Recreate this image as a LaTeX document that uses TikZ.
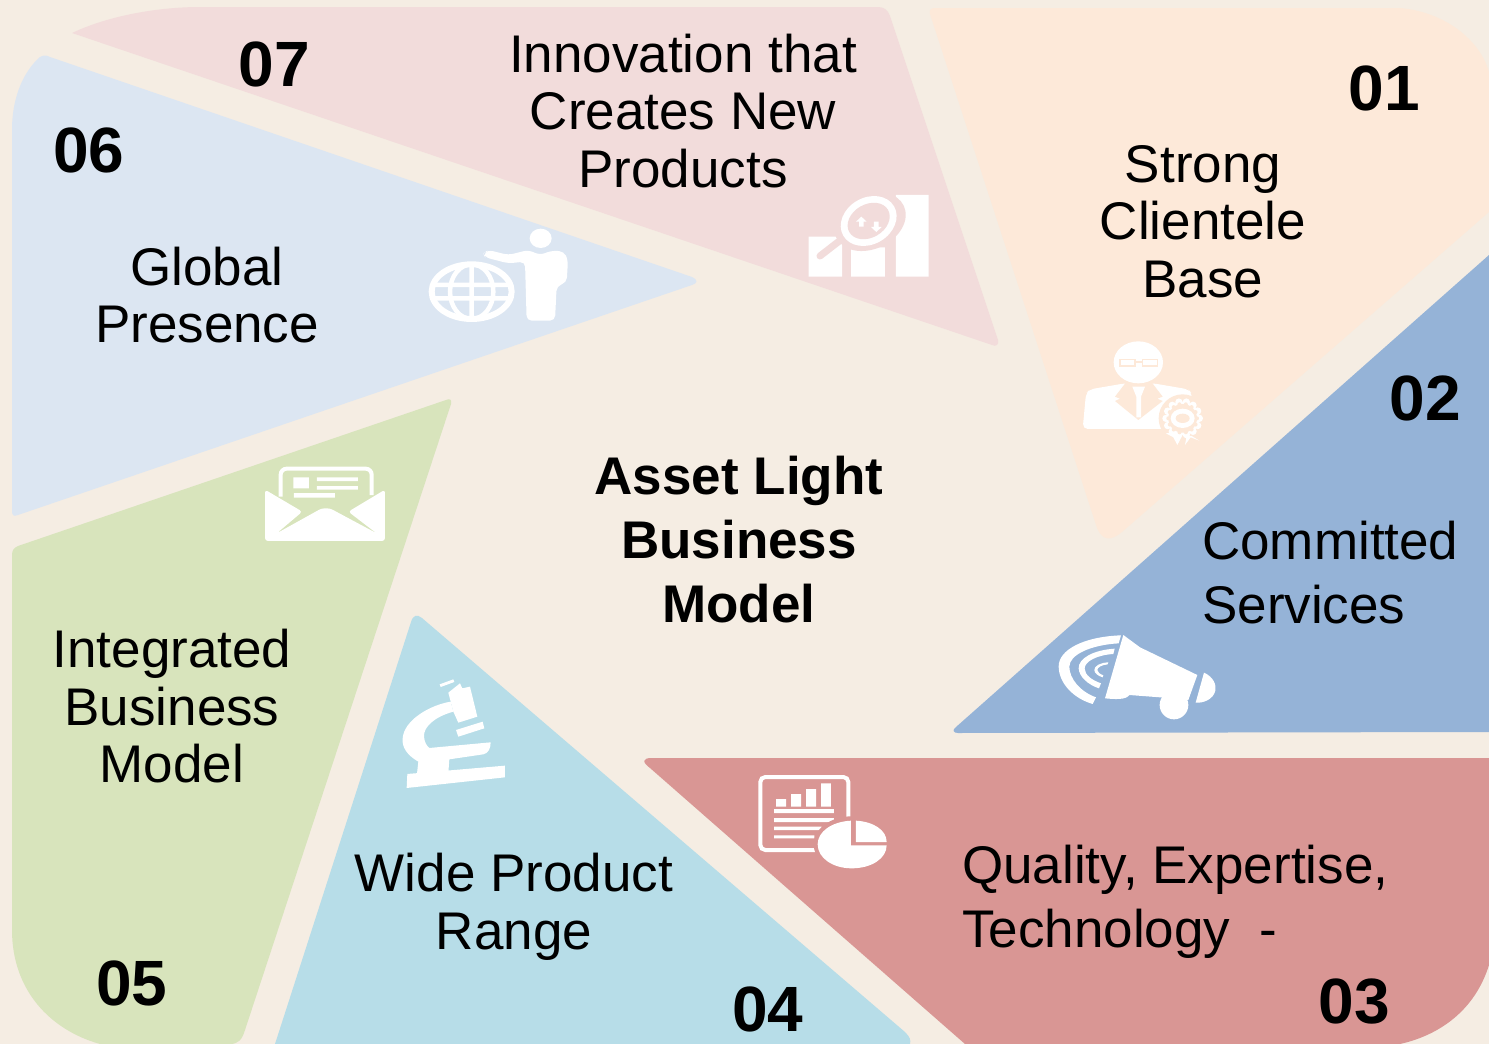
\documentclass[tikz,border=0pt]{standalone}
\usepackage{fontspec}
\usetikzlibrary{calc}
\setmainfont{Liberation Sans}
\definecolor{bgc}{HTML}{F5EDE3}
\definecolor{cA}{HTML}{FDE9D9}
\definecolor{cB}{HTML}{95B3D7}
\definecolor{cC}{HTML}{D99694}
\definecolor{cD}{HTML}{B7DDE8}
\definecolor{cE}{HTML}{D8E4BC}
\definecolor{cF}{HTML}{DCE6F2}
\definecolor{cG}{HTML}{F2DCDB}
\tikzset{
  lab/.style={inner sep=0pt,align=center,font=\fontsize{53}{57.5}\selectfont,text=black},
  labl/.style={inner sep=0pt,align=left,font=\fontsize{53}{64}\selectfont,text=black},
  num/.style={inner sep=0pt,font=\fontsize{64}{70}\selectfont\bfseries,text=black},
  ctr/.style={inner sep=0pt,align=center,font=\fontsize{53}{64}\selectfont\bfseries,text=black},
  icon/.style={x=0.3333pt,y=-0.3333pt}
}
\begin{document}
\begin{tikzpicture}[x=1pt,y=-1pt]
\useasboundingbox (0,0) rectangle (1489,1044);
\fill[bgc] (0,0) rectangle (1489,1044);
% blades
\fill[cG,line join=round] (72,33) .. controls (110,15) and (160,7) .. (200,7) -- (878,7) .. controls (884,7) and (888,10) .. (890,16) -- (998,340) .. controls (999,345) and (996,347) .. (992,345) -- cycle;
\fill[cF] (12,510) -- (12,130) .. controls (12,95) and (25,70) .. (40,57) .. controls (44,55) and (46,55) .. (50,57) -- (692,277) .. controls (698,280) and (698,283) .. (692,285) -- (18,515) .. controls (13,517) and (12,515) .. (12,510) -- cycle;
\fill[cE] (12,555) .. controls (12,550) and (14,548) .. (18,546) -- (446,400) .. controls (450,398) and (452,400) .. (451,404) -- (245,1030) .. controls (242,1040) and (238,1044) .. (230,1044) -- (100,1044) .. controls (50,1030) and (12,990) .. (12,930) -- cycle;
\fill[cD] (275,1044) -- (411,622) .. controls (413,615) and (417,614) .. (422,618) -- (905,1032) .. controls (910,1037) and (911,1040) .. (910,1044) -- cycle;
\fill[cC] (650,768) .. controls (642,762) and (642,758) .. (652,758) -- (1489,758) -- (1489,965) .. controls (1475,1010) and (1440,1035) .. (1400,1044) -- (965,1044) -- cycle;
\fill[cB] (1489,255) -- (1489,732) -- (958,733) .. controls (953,733) and (952,730) .. (956,727) -- cycle;
\fill[cA] (935,8) -- (1400,8) .. controls (1445,12) and (1480,40) .. (1489,72) -- (1489,212) -- (1122,532) .. controls (1110,542) and (1102,540) .. (1097,528) -- (930,14) .. controls (929,10) and (931,8) .. (935,8) -- cycle;
% icon 07
\begin{scope}[shift={(780,170)},icon]
\fill[white] (86,200) rectangle (186,320) (213,232) rectangle (315,320) (348,75) rectangle (446,320);
\fill[cG,rotate around={25:(270,155)}] (270,155) ellipse [x radius=112,y radius=82];
\draw[cG,line width=7pt,line cap=round] (200,196) -- (120,258);
\fill[white,rotate around={30:(266,153)}] (266,153) ellipse [x radius=88,y radius=70];
\fill[cG,rotate around={30:(266,153)}] (266,153) ellipse [x radius=67,y radius=50];
\fill[white] (244,140) -- (260,155) -- (251,155) -- (251,170) -- (237,170) -- (237,155) -- (228,155) -- cycle;
\fill[white] (289,186) -- (273,171) -- (282,171) -- (282,155) -- (296,155) -- (296,171) -- (305,171) -- cycle;
\end{scope}
% icon 06
\begin{scope}[shift={(420,210)},icon]
\draw[white,line width=6pt] (155,245) ellipse [x radius=120,y radius=82];
\draw[white,line width=4.5pt] (155,245) ellipse [x radius=65,y radius=82] (155,163) -- (155,327) (45,225) -- (265,225) (45,265) -- (265,265);
\fill[white] (362,85) ellipse [x radius=33,y radius=29];
\fill[white,line join=round,rounded corners=5pt] (190,130) -- (205,120) -- (265,135) -- (325,120) -- (360,135) -- (395,122) -- (432,124) -- (444,150) -- (440,218) -- (410,228) -- (405,332) -- (320,332) -- (315,155) -- (265,160) -- (195,142) -- cycle;
\end{scope}
% icon 01
\begin{scope}[shift={(1070,330)},icon]
\fill[white,rounded corners=5pt] (38,297) -- (48,190) -- (60,178) -- (165,160) -- (250,160) -- (355,178) -- (365,190) -- (372,297) -- cycle;
\fill[cA] (168,157) -- (135,200) -- (150,206) -- (135,213) -- (205,270) -- (278,213) -- (262,206) -- (278,200) -- (245,157) -- cycle;
\fill[white] (187,170) -- (225,170) -- (213,200) -- (213,262) -- (199,262) -- (199,200) -- cycle;
\fill[white] (205,97) ellipse [x radius=74,y radius=63];
\draw[cA,line width=1.6pt] (150,88) rectangle (195,108) (218,88) rectangle (262,108) (195,96) -- (218,96);
\fill[cA] (338,265) circle [radius=72];
\fill[white] (288,310) -- (318,305) -- (335,320) -- (322,345) -- (310,322) -- cycle;
\fill[white] (388,332) -- (365,318) -- (350,318) -- (345,345) -- (362,322) -- cycle;
\foreach \a in {0,25.7,...,340}{\fill[white] ($(338,265)+(\a:50)$) circle [radius=11];}
\fill[white] (338,265) circle [radius=50];
\foreach \a in {0,25.7,...,340}{\fill[cA] ($(338,265)+(\a:43)$) circle [radius=6];}
\fill[cA] (338,265) circle [radius=43];
\fill[white] (338,265) ellipse [x radius=36,y radius=29];
\fill[cA] (338,265) ellipse [x radius=21,y radius=14];
\end{scope}
% icon 02
\begin{scope}[shift={(1040,620)},icon]
\fill[white] (402,255) circle [radius=43];
\fill[white,line join=round] (250,45) -- (300,82) -- (472,165) -- (445,240) -- (360,232) -- (268,225) .. controls (258,240) and (225,238) .. (195,235) -- cycle;
\fill[white] (492,158) .. controls (520,170) and (530,195) .. (526,212) .. controls (520,238) and (490,250) .. (467,248) -- cycle;
\fill[white] (243,46) .. controls (130,50) and (55,90) .. (56,140) .. controls (57,190) and (100,235) .. (158,252) -- (168,232) .. controls (120,215) and (88,175) .. (88,140) .. controls (88,105) and (150,75) .. (236,70) -- cycle;
\fill[white] (224,86) .. controls (160,90) and (115,115) .. (116,145) .. controls (117,170) and (145,195) .. (177,205) -- (183,190) .. controls (155,180) and (134,165) .. (134,145) .. controls (134,125) and (170,105) .. (220,102) -- cycle;
\fill[white] (205,127) .. controls (180,128) and (163,138) .. (163,150) .. controls (163,160) and (175,168) .. (188,172) -- (190,166) .. controls (180,162) and (172,157) .. (172,150) .. controls (172,142) and (185,135) .. (203,133) -- cycle;
\end{scope}
% icon 03
\begin{scope}[shift={(745,765)},icon]
\draw[white,line width=4pt,rounded corners=5pt] (46,36) rectangle (310,255);
\fill[white] (93,102) rectangle (123,125) (138,87) rectangle (168,125) (183,72) rectangle (213,125) (228,55) rectangle (258,125);
\fill[white] (87,132) rectangle (267,144) (87,159) rectangle (267,171) (87,185) rectangle (230,195) (87,211) rectangle (208,220);
\fill[cC] (320,238) ellipse [x radius=114,y radius=84];
\fill[white] (318,167) .. controls (260,170) and (218,200) .. (218,238) .. controls (218,280) and (265,310) .. (320,310) .. controls (380,310) and (425,280) .. (425,241) -- (318,241) -- cycle;
\fill[white] (333,167) .. controls (385,170) and (425,195) .. (425,231) -- (333,231) -- cycle;
\end{scope}
% icon 04
\begin{scope}[shift={(390,670)},icon]
\fill[white] (52,312) -- (345,287) -- (345,322) -- (50,354) -- cycle;
\fill[white] (80,320) -- (85,275) .. controls (50,255) and (35,230) .. (38,205) .. controls (42,150) and (120,105) .. (182,95) -- (190,125) .. controls (135,140) and (100,170) .. (102,200) .. controls (103,215) and (110,228) .. (118,234) -- (302,217) .. controls (302,235) and (295,250) .. (280,253) -- (178,268) -- (175,310) -- cycle;
\fill[white] (175,68) -- (210,40) -- (217,55) -- (240,50) -- (262,140) -- (205,158) -- (190,125) -- cycle;
\fill[white] (198,180) -- (278,155) -- (283,175) -- (205,200) -- cycle;
\fill[white] (149,43) -- (190,28) -- (193,36) -- (152,51) -- cycle;
\end{scope}
% icon 05
\begin{scope}[shift={(250,455)},icon]
\fill[white,rounded corners=3pt] (45,104) -- (157,170) -- (80,235) -- (215,160) -- (240,160) -- (380,235) -- (295,170) -- (405,104) -- (405,258) -- (45,258) -- cycle;
\draw[white,line width=4pt,rounded corners=6pt] (92,125) -- (92,41) -- (365,41) -- (365,120);
\fill[white] (130,67) rectangle (177,100) (201,67) rectangle (324,78) (201,93) rectangle (324,104) (132,114) rectangle (255,128);
\end{scope}
% texts
\node[num] (n07) at (274.5,64.5) {07};
\node[num] (n06) at (89,150.5) {06};
\node[num] (n01) at (1384,88.5) {01};
\node[num] (n02) at (1425,398.5) {02};
\node[num] (n03) at (1354,1001.5) {03};
\node[num] (n04) at (768,1009.5) {04};
\node[num] (n05) at (132,983.5) {05};
\node[lab] (t07) at (683,111) {Innovation that\\Creates New\\Products};
\node[lab] (t06) at (207,295) {Global\\Presence};
\node[lab] (t01) at (1203,221.5) {Strong\\Clientele\\Base};
\node[labl,anchor=west] (t02) at (1202,573) {Committed\\Services};
\node[labl,anchor=west] (t03) at (962,902) {Quality, Expertise,\\Technology~~-};
\node[lab] (t04) at (514,907) {Wide Product\\Range};
\node[lab] (t05) at (172,706.5) {Integrated\\Business\\Model};
\node[ctr] (c) at (739,540) {Asset Light\\Business\\Model};
\end{tikzpicture}
\end{document}
